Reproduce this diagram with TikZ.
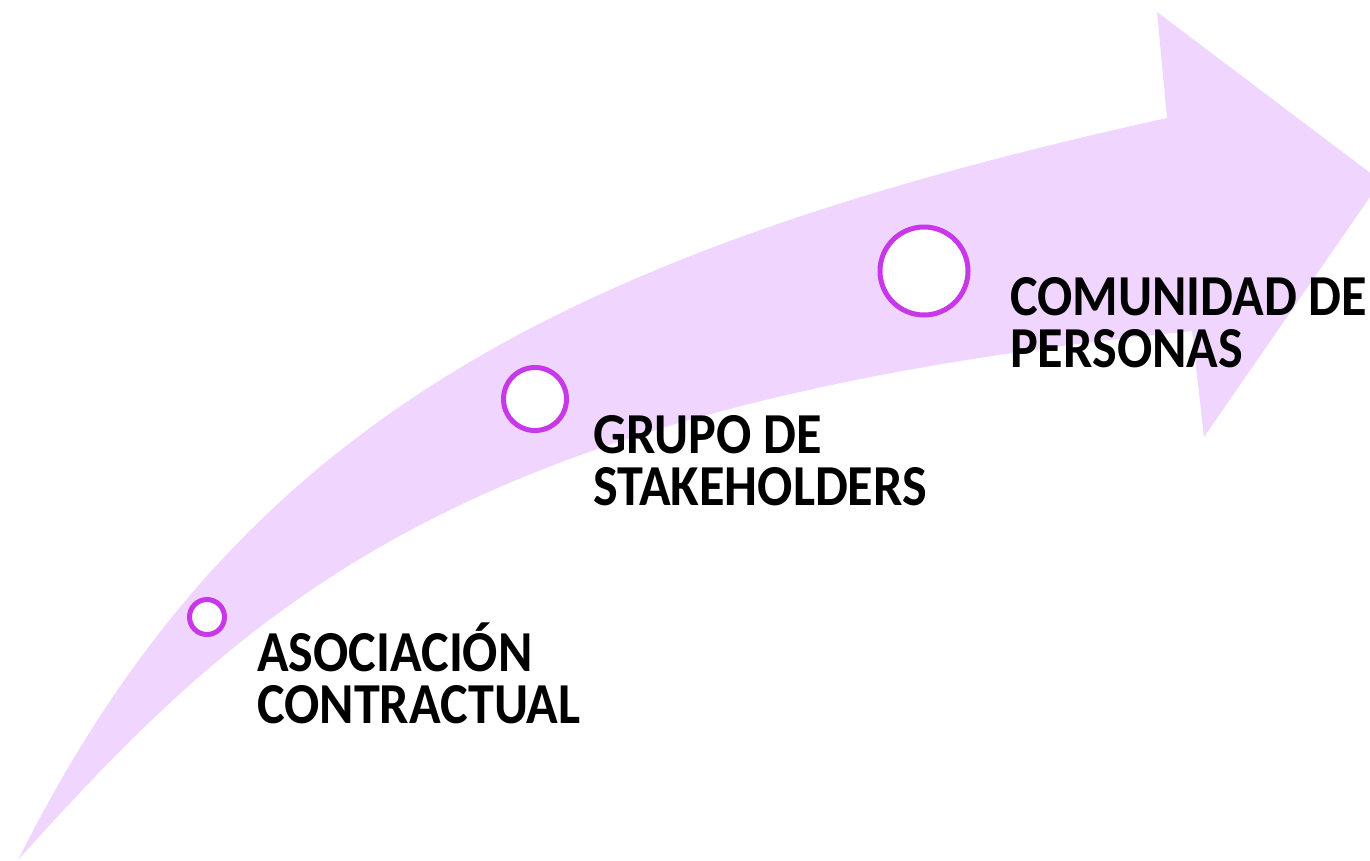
\documentclass[tikz,border=0pt]{standalone}
\usepackage{fontspec}
\setmainfont{Carlito}[FakeStretch=0.9]
\usepackage{tikz}
\definecolor{lila}{RGB}{240,214,255}
\definecolor{violeta}{RGB}{200,56,232}
\tikzset{
	hito/.style={circle, draw=violeta, line width=5pt, fill=white, inner sep=0pt},
	etiqueta/.style={anchor=base west, align=left, inner sep=0pt, font=\bfseries\fontsize{58}{52}\selectfont}
}
\begin{document}
\begin{tikzpicture}[x=1pt, y=-1pt]
			\useasboundingbox (0,0) rectangle (1370,860);
			\clip (0,0) rectangle (1370,860);
			\fill[lila] (18,860) .. controls (232,433) and (546,255) .. (1167,118) -- (1157,12) -- (1381,181) -- (1204,437) -- (1192,331) .. controls (464,404) and (253,599) .. (18,860) -- cycle;
			\node[hito, minimum size=35pt] (c1) at (207,617) {};
			\node[hito, minimum size=63pt] (c2) at (535,399) {};
			\node[hito, minimum size=88pt] (c3) at (924,271) {};
			\node[etiqueta] (t1) at (257,723) {ASOCIACIÓN\\CONTRACTUAL};
			\node[etiqueta] (t2) at (593,505) {GRUPO DE\\STAKEHOLDERS};
			\node[etiqueta] (t3) at (1010,367) {COMUNIDAD DE\\PERSONAS};
		\end{tikzpicture}
\end{document}
